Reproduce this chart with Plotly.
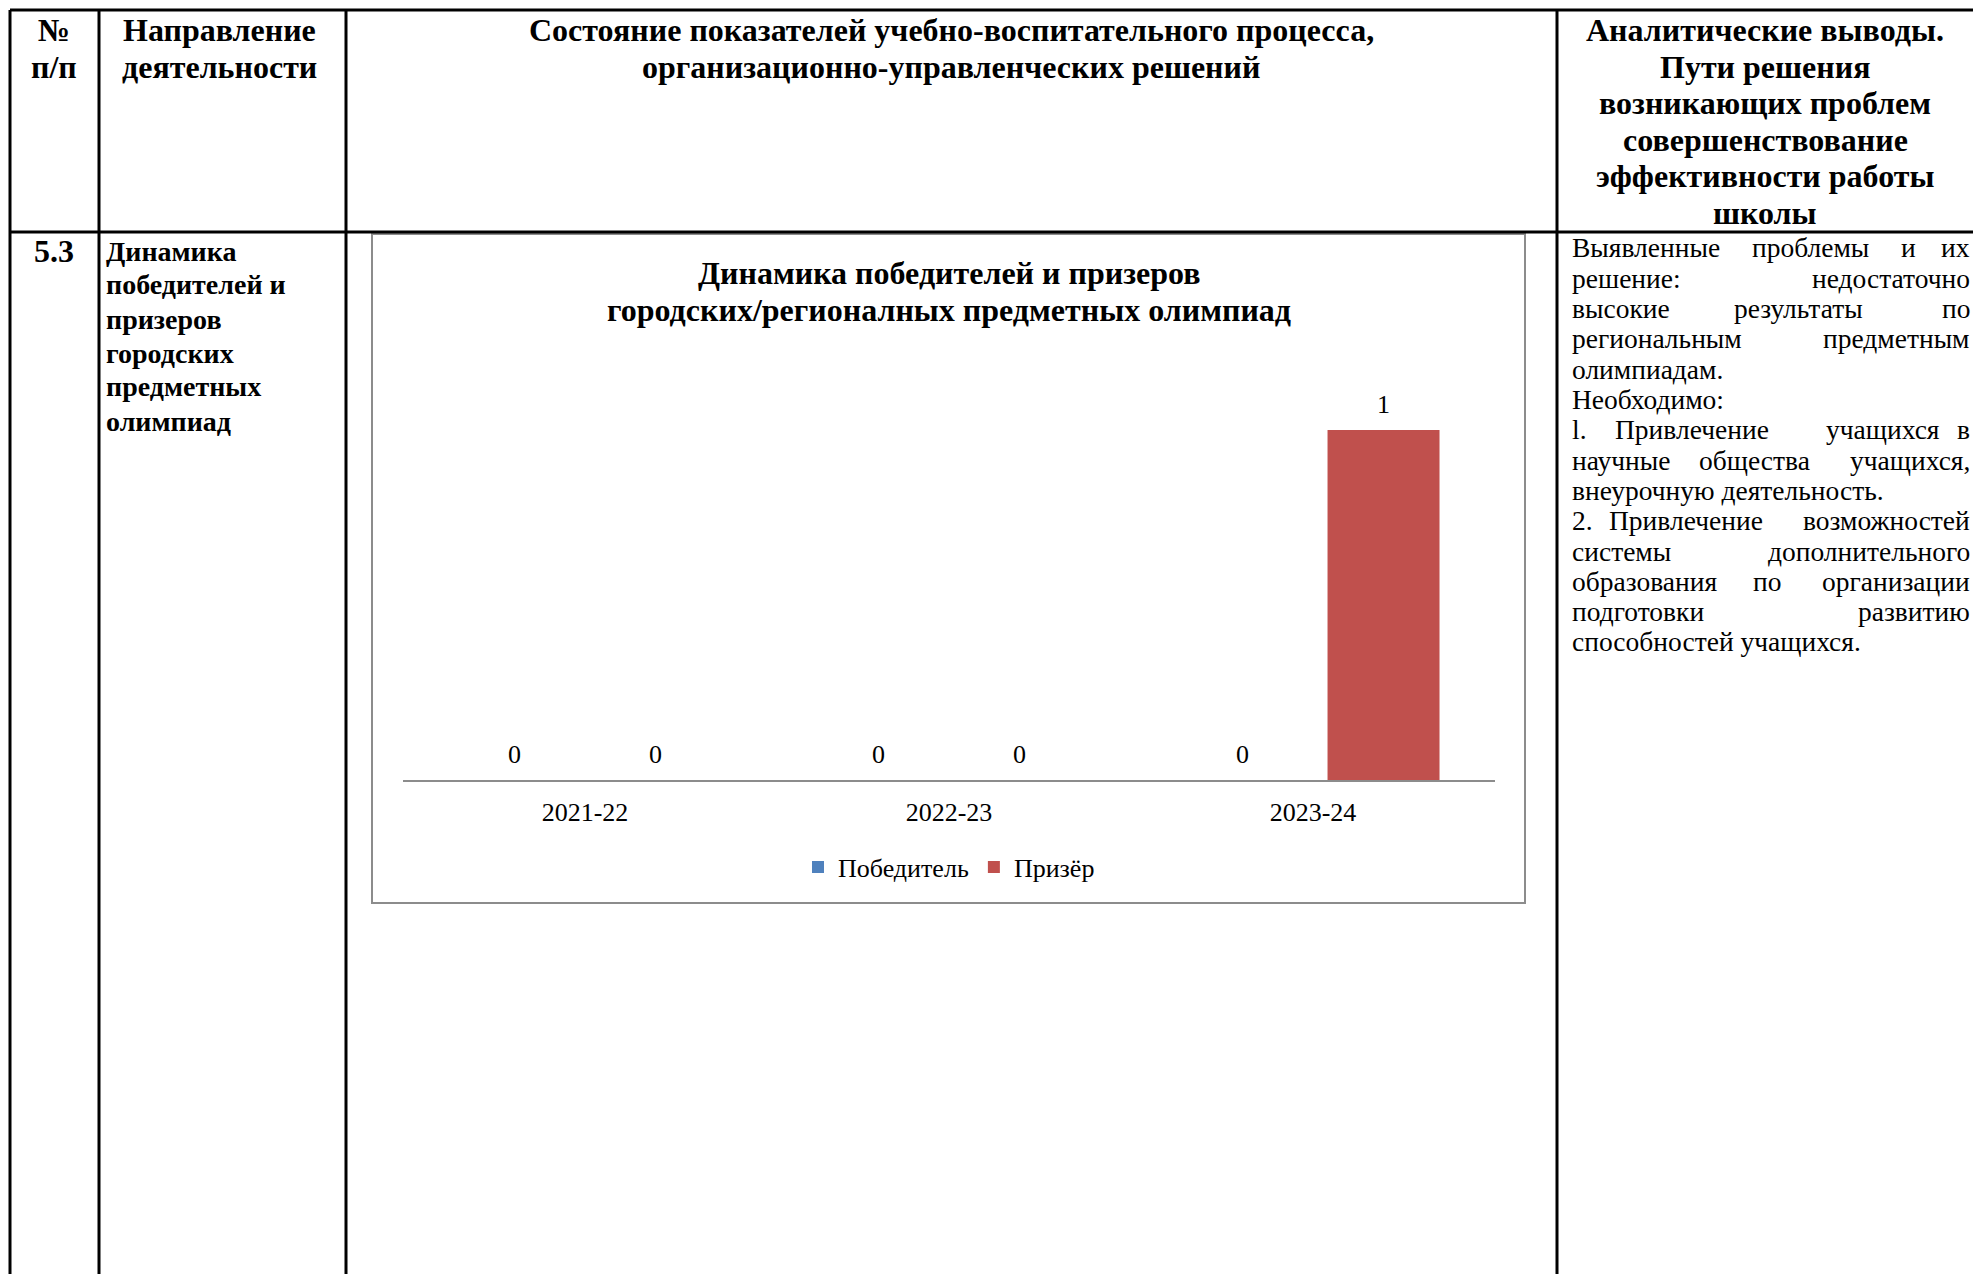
import plotly.graph_objects as go

W, H = 1973, 1274

# ---------------- data ----------------
categories = ["2021-22", "2022-23", "2023-24"]
winners = [0, 0, 0]
prizewinners = [0, 0, 1]
series_names = ["Победитель", "Призёр"]
series_colors = ["#4F81BD", "#C0504D"]

chart_title_lines = ["Динамика победителей и призеров",
                     "городских/регионалных предметных олимпиад"]

header_num = ["№", "п/п"]
header_dir = ["Направление", "деятельности"]
header_state = ["Состояние показателей учебно-воспитательного процесса,",
                "организационно-управленческих решений"]
header_concl = ["Аналитические выводы.", "Пути решения", "возникающих проблем",
                "совершенствование", "эффективности работы", "школы"]
row_num = "5.3"
row_dir = ["Динамика", "победителей и", "призеров", "городских", "предметных", "олимпиад"]

# justified body text: each line as list of words
body_lines = [
    ["Выявленные", "проблемы", "и", "их"],
    ["решение:", "недостаточно"],
    ["высокие", "результаты", "по"],
    ["региональным", "предметным"],
    ["олимпиадам."],
    ["Необходимо:"],
    ["l.", "Привлечение", "учащихся", "в"],
    ["научные", "общества", "учащихся,"],
    ["внеурочную деятельность."],
    ["2.", "Привлечение", "возможностей"],
    ["системы", "дополнительного"],
    ["образования", "по", "организации"],
    ["подготовки", "развитию"],
    ["способностей учащихся."],
]
justified = [True, True, True, True, False, False, True, True, False, True, True, True, True, False]
# layout: x-start (px) of middle words in justified lines
body_mid_x = [
    [1752, 1901], [], [1734], [], [], [],
    [1615, 1826], [1699], [], [1609], [], [1753], [], [],
]


def px(x):
    return x / W


def py(y):
    return 1 - y / H


SERIF = "Liberation Serif"

# chart geometry
BARGAP = 0.225
BARGROUPGAP = 0.206
PLOT_X0, PLOT_X1 = 403, 1495

fig = go.Figure()
for name, vals, col in zip(series_names, [winners, prizewinners], series_colors):
    fig.add_trace(go.Bar(
        x=categories, y=vals, name=name, marker=dict(color=col, line=dict(width=0)),
        hoverinfo="skip",
    ))

shapes = []
LC = "black"
LW = 3
# table lines
shapes.append(dict(type="line", xref="paper", yref="paper", x0=px(10), x1=px(W + 5), y0=py(10), y1=py(10), line=dict(color=LC, width=LW)))
shapes.append(dict(type="line", xref="paper", yref="paper", x0=px(10), x1=px(W + 5), y0=py(232), y1=py(232), line=dict(color=LC, width=LW)))
for xv in [10, 99, 346, 1557]:
    shapes.append(dict(type="line", xref="paper", yref="paper", x0=px(xv), x1=px(xv), y0=py(10), y1=py(H + 5), line=dict(color=LC, width=LW)))
# chart frame
shapes.append(dict(type="rect", xref="paper", yref="paper", x0=px(372), x1=px(1525), y0=py(234), y1=py(903),
                   line=dict(color="#8c8c8c", width=2), fillcolor="rgba(0,0,0,0)", layer="below"))

ann = []


def text(t, x, y, size, bold=False, xanchor="center"):
    ann.append(dict(text=t, x=px(x), y=py(y), xref="paper", yref="paper", xanchor=xanchor, yanchor="middle",
                    showarrow=False, borderpad=0, borderwidth=0,
                    font=dict(family=SERIF, size=size, color="black", weight="bold" if bold else "normal")))


HS = 32
for i, t in enumerate(header_num):
    text(t, 54, 30 + i * 36.5, HS, True)
for i, t in enumerate(header_dir):
    text(t, 219, 30 + i * 36.5, HS, True)
for i, t in enumerate(header_state):
    text(t, 951, 30 + i * 36.5, HS, True)
for i, t in enumerate(header_concl):
    text(t, 1765, 30 + i * 36.5, HS, True)

text(row_num, 54, 251, 32, True)
for i, t in enumerate(row_dir):
    text(t, 106, 251 + i * 34, 28, True, xanchor="left")

BS = 27.5
LX, RX = 1572, 1970
for i, words in enumerate(body_lines):
    y = 248 + i * 30.3
    if not justified[i] or len(words) == 1:
        text(" ".join(words), LX, y, BS, xanchor="left")
        continue
    text(words[0], LX, y, BS, xanchor="left")
    text(words[-1], RX, y, BS, xanchor="right")
    for w, xm in zip(words[1:-1], body_mid_x[i]):
        text(w, xm, y, BS, xanchor="left")

# chart title
for i, t in enumerate(chart_title_lines):
    text(t, 949, 273 + i * 36.5, 32, True)

# bar data labels, placed through the data axes
cat_px = (PLOT_X1 - PLOT_X0) / len(categories)
slot = (1 - BARGAP) * cat_px / len(series_names)
for k, vals in enumerate([winners, prizewinners]):
    shift = (k - (len(series_names) - 1) / 2) * slot
    for c, v in zip(categories, vals):
        ann.append(dict(text=str(v), x=c, y=v, xref="x", yref="y", xanchor="center", yanchor="middle",
                        xshift=shift, yshift=26, showarrow=False,
                        font=dict(family=SERIF, size=26, color="black")))

fig.update_layout(
    width=W, height=H, autosize=False,
    margin=dict(l=0, r=0, t=0, b=0),
    paper_bgcolor="white", plot_bgcolor="white",
    barmode="group", bargap=BARGAP, bargroupgap=BARGROUPGAP,
    font=dict(family=SERIF, color="black"),
    xaxis=dict(domain=[px(PLOT_X0), px(PLOT_X1)], showline=True, linecolor="#8c8c8c", linewidth=2,
               ticks="", showgrid=False, zeroline=False, ticklabelstandoff=8,
               tickfont=dict(family=SERIF, size=26, color="black"), fixedrange=True),
    yaxis=dict(domain=[py(780), py(360)], range=[0, 1.2], visible=False, fixedrange=True),
    legend=dict(orientation="h", x=px(949), xanchor="center", y=py(867), yanchor="middle",
                font=dict(family=SERIF, size=26, color="black"), itemwidth=30, bgcolor="rgba(0,0,0,0)"),
    shapes=shapes, annotations=ann, showlegend=True,
)

fig.write_html("out.html", config={"displayModeBar": False},
               post_script="document.body.style.margin='0';document.body.style.overflow='hidden';")
